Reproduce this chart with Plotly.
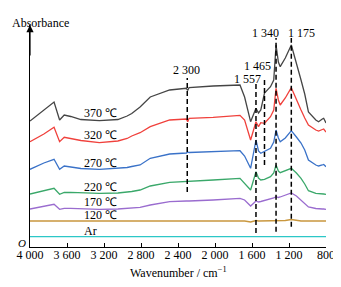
import plotly.graph_objects as go

wavenumber = [4000, 3850, 3740, 3680, 3630, 3560, 3450, 3250, 3050, 2950, 2900, 2810, 2700,
              2490, 2310, 2295, 2280, 2020, 1730, 1680, 1615, 1557, 1530, 1505, 1465, 1400,
              1365, 1340, 1315, 1295, 1240, 1175, 1120, 1070, 1030, 990, 910, 880, 840, 825, 800]

abs_370 = [1.26, 1.37, 1.45, 1.27, 1.32, 1.305, 1.275, 1.263, 1.275, 1.31, 1.335, 1.40, 1.50,
           1.57, 1.587, 1.565, 1.595, 1.61, 1.62, 1.50, 1.253, 1.387, 1.34, 1.37, 1.54, 1.603,
           1.67, 2.02, 1.85, 1.803, 1.89, 2.02, 1.85, 1.67, 1.53, 1.35, 1.27, 1.253, 1.28, 1.287, 1.24]
abs_320 = [1.053, 1.13, 1.197, 1.053, 1.097, 1.085, 1.065, 1.043, 1.06, 1.085, 1.11, 1.143, 1.203,
           1.27, 1.28, 1.253, 1.287, 1.297, 1.317, 1.27, 1.07, 1.253, 1.203, 1.243, 1.237, 1.303,
           1.37, 1.587, 1.47, 1.42, 1.49, 1.593, 1.47, 1.37, 1.29, 1.22, 1.17, 1.16, 1.175, 1.18, 1.15]
abs_270 = [0.777, 0.84, 0.877, 0.777, 0.81, 0.80, 0.785, 0.777, 0.785, 0.795, 0.805, 0.82, 0.887,
           0.93, 0.94, 0.95, 0.945, 0.953, 0.963, 0.91, 0.787, 1.07, 0.96, 0.937, 0.953, 0.987,
           1.05, 1.17, 1.09, 1.053, 1.09, 1.163, 1.10, 1.04, 0.97, 0.87, 0.82, 0.81, 0.82, 0.825, 0.803]
abs_220 = [0.53, 0.56, 0.587, 0.527, 0.545, 0.547, 0.542, 0.537, 0.54, 0.545, 0.555, 0.57, 0.61,
           0.647, 0.653, 0.655, 0.657, 0.67, 0.687, 0.637, 0.57, 0.753, 0.69, 0.67, 0.677, 0.703,
           0.74, 0.82, 0.76, 0.743, 0.76, 0.787, 0.74, 0.687, 0.63, 0.563, 0.537, 0.532, 0.53, 0.53, 0.527]
abs_170 = [0.38, 0.405, 0.427, 0.377, 0.387, 0.387, 0.382, 0.377, 0.38, 0.385, 0.387, 0.397, 0.42,
           0.453, 0.46, 0.46, 0.46, 0.47, 0.487, 0.47, 0.41, 0.46, 0.45, 0.455, 0.465, 0.48,
           0.49, 0.503, 0.495, 0.50, 0.52, 0.54, 0.51, 0.47, 0.43, 0.40, 0.385, 0.38, 0.38, 0.38, 0.377]
abs_120 = [0.26, 0.26, 0.26, 0.26, 0.26, 0.26, 0.26, 0.26, 0.26, 0.26, 0.26, 0.26, 0.26,
           0.26, 0.26, 0.26, 0.26, 0.26, 0.26, 0.26, 0.25, 0.265, 0.26, 0.26, 0.26, 0.26,
           0.26, 0.265, 0.26, 0.26, 0.265, 0.275, 0.265, 0.26, 0.26, 0.26, 0.26, 0.26, 0.26, 0.26, 0.26]
abs_ar = [0.103] * len(wavenumber)

series_names = ["370 ℃", "320 ℃", "270 ℃", "220 ℃", "170 ℃", "120 ℃", "Ar"]
series_values = [abs_370, abs_320, abs_270, abs_220, abs_170, abs_120, abs_ar]
series_colors = ["#454545", "#f0413c", "#3a72c8", "#3aa86a", "#9a6ccf", "#c9973e", "#2cc7c7"]
label_y = [1.34, 1.12, 0.84, 0.60, 0.45, 0.32, 0.16]

peak_positions = [2300, 1557, 1465, 1340, 1175]
peak_labels = ["2 300", "1 557", "1 465", "1 340", "1 175"]
peak_top = [1.69, 1.65, 1.67, 2.09, 2.09]
peak_bottom = [0.55, 0.14, 0.82, 0.153, 0.203]
peak_label_x = [2310, 1650, 1545, 1455, 1065]
peak_label_y = [1.77, 1.68, 1.81, 2.14, 2.14]

tick_vals = [4000, 3600, 3200, 2800, 2400, 2000, 1600, 1200, 800]
tick_text = ["4 000", "3 600", "3 200", "2 800", "2 400", "2 000", "1 600", "1 200", "800"]

FONT = "Liberation Serif, Times New Roman, serif"

fig = go.Figure()
for name, vals, col in zip(series_names, series_values, series_colors):
    fig.add_trace(go.Scatter(x=wavenumber, y=vals, mode="lines", name=name,
                             line=dict(color=col, width=1.3), showlegend=False))

for name, y in zip(series_names, label_y):
    fig.add_annotation(x=3435, y=y, text=name, showarrow=False, xanchor="left",
                       font=dict(family=FONT, size=12, color="black"))

for p, t, b in zip(peak_positions, peak_top, peak_bottom):
    fig.add_shape(type="line", x0=p, x1=p, y0=b, y1=t, xref="x", yref="y",
                  line=dict(color="black", width=1.5, dash="5px,3px"))

for lx, ly, lab in zip(peak_label_x, peak_label_y, peak_labels):
    fig.add_annotation(x=lx, y=ly, text=lab, showarrow=False,
                       font=dict(family=FONT, size=12, color="black"))

# y-axis arrow
fig.add_annotation(x=4000, y=2.22, ax=4000, ay=1.9, xref="x", yref="y", axref="x", ayref="y",
                   text="", showarrow=True, arrowhead=2, arrowsize=1.2, arrowwidth=1.2,
                   arrowcolor="black")

fig.add_annotation(x=0, y=1.0, xref="paper", yref="paper", yshift=11, text="Absorbance",
                   showarrow=False, xanchor="left", yanchor="top", xshift=-20,
                   font=dict(family=FONT, size=12, color="black"))
fig.add_annotation(x=0, y=0.0, xref="paper", yref="paper", text="<i>O</i>",
                   showarrow=False, xanchor="right", yanchor="middle", xshift=-2, yshift=4,
                   font=dict(family=FONT, size=11, color="black"))
fig.add_annotation(x=0.5, y=0, xref="paper", yref="paper", yshift=-16,
                   text="Wavenumber / cm<sup>−1</sup>", showarrow=False, yanchor="top",
                   font=dict(family=FONT, size=12, color="black"))

fig.update_layout(
    width=333, height=271,
    margin=dict(l=22, r=15, t=17, b=32),
    plot_bgcolor="white", paper_bgcolor="white",
    xaxis=dict(range=[4000, 800], tickvals=tick_vals, ticktext=tick_text,
               ticks="inside", ticklen=4, tickcolor="black", tickwidth=1,
               showline=True, linecolor="black", linewidth=1.2, showgrid=False,
               zeroline=False, automargin=False, ticklabelstandoff=-4,
               tickfont=dict(family=FONT, size=12, color="black")),
    yaxis=dict(range=[0, 2.22], showline=True, linecolor="black", linewidth=1.2,
               showgrid=False, zeroline=False, showticklabels=False, ticks="",
               automargin=False),
)

fig.write_html("out.html")
